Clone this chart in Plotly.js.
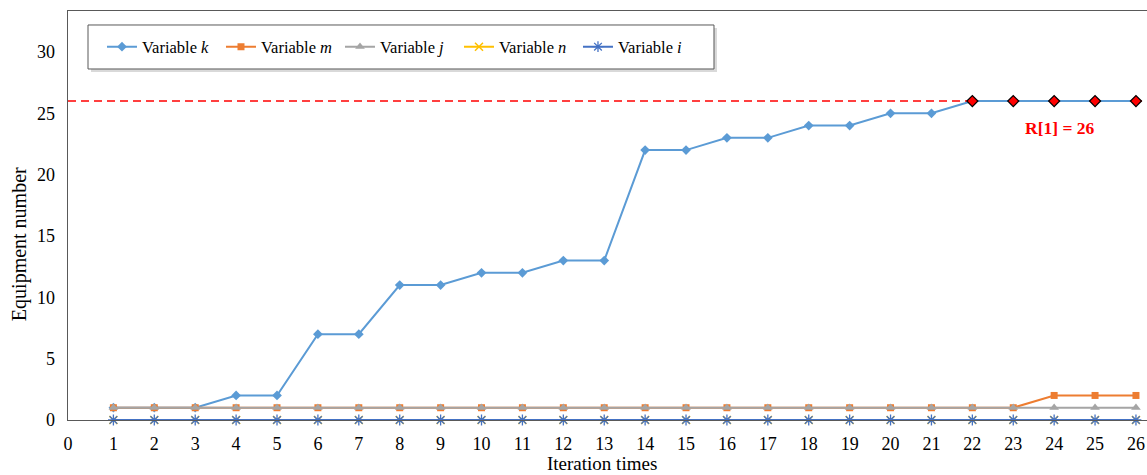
<!DOCTYPE html>
<html>
<head>
<meta charset="utf-8">
<script src="https://cdn.plot.ly/plotly-3.0.1.min.js"></script>
<style>html,body{margin:0;padding:0;background:#fff;}#chart{width:1147px;height:475px;}</style>
</head>
<body>
<div id="chart"></div>
<script>
const iterations = [1,2,3,4,5,6,7,8,9,10,11,12,13,14,15,16,17,18,19,20,21,22,23,24,25,26];
const varK = [1,1,1,2,2,7,7,11,11,12,12,13,13,22,22,23,23,24,24,25,25,26,26,26,26,26];
const varM = [1,1,1,1,1,1,1,1,1,1,1,1,1,1,1,1,1,1,1,1,1,1,1,2,2,2];
const varJ = [1,1,1,1,1,1,1,1,1,1,1,1,1,1,1,1,1,1,1,1,1,1,1,1,1,1];
const varN = [0,0,0,0,0,0,0,0,0,0,0,0,0,0,0,0,0,0,0,0,0,0,0,0,0,0];
const varI = [0,0,0,0,0,0,0,0,0,0,0,0,0,0,0,0,0,0,0,0,0,0,0,0,0,0];
const limitValue = 26;
const limitIterations = [22,23,24,25,26];
const limitValues = [26,26,26,26,26];
const limitLabel = 'R[1] = 26';
const xTickText = ['0','1','2','3','4','5','6','7','8','9','10','11','12','13','14','15','16','17','18','19','20','21','22','23','24','25','26'];
const yTickVals = [0,5,10,15,20,25,30];
const xTitle = 'Iteration times';
const yTitle = 'Equipment number';

const FONT = 'Liberation Serif, serif';
const xStart = -0.11;

function series(name, y, color, symbol, size, lineW) {
  return {
    x: iterations, y: y, name: name, type: 'scatter', mode: 'lines+markers',
    cliponaxis: false,
    line: {color: color, width: 2},
    marker: {symbol: symbol, size: size, color: color, line: {color: color, width: lineW || 0}}
  };
}

const traces = [
  series('Variable <i>k</i>', varK, '#5B9BD5', 'diamond', 7.5),
  series('Variable <i>m</i>', varM, '#ED7D31', 'square', 7),
  series('Variable <i>j</i>', varJ, '#A5A5A5', 'triangle-up', 8.5),
  series('Variable <i>n</i>', varN, '#FFC000', 'x-thin-open', 8, 1.5),
  series('Variable <i>i</i>', varI, '#4472C4', 'asterisk-open', 9, 1.3),
  {
    x: limitIterations, y: limitValues, type: 'scatter', mode: 'markers', showlegend: false,
    cliponaxis: false, hoverinfo: 'skip',
    marker: {symbol: 'diamond', size: 8.5, color: '#FF0000', line: {color: '#000000', width: 1.2}}
  }
];

const tickVals = [xStart].concat(iterations);

const layout = {
  width: 1147, height: 475,
  margin: {l: 68, r: 0, t: 11, b: 55, autoexpand: false},
  paper_bgcolor: '#ffffff', plot_bgcolor: '#ffffff',
  font: {family: FONT, size: 16, color: '#000000'},
  showlegend: true,
  legend: {
    orientation: 'h', x: 0.0315, y: 0.912, xanchor: 'left', yanchor: 'middle',
    bgcolor: 'rgba(0,0,0,0)', borderwidth: 0,
    font: {family: FONT, size: 16.5, color: '#000'},
    entrywidth: 74, entrywidthmode: 'pixels',
    tracegroupgap: 0, itemwidth: 30
  },
  xaxis: {
    range: [xStart, 26.27], tickmode: 'array', tickvals: tickVals, ticktext: xTickText,
    showgrid: false, zeroline: false, showline: true, mirror: true,
    linecolor: '#595959', linewidth: 1.3, ticks: '', ticklabelstandoff: 7,
    tickfont: {family: FONT, size: 18}
  },
  yaxis: {
    range: [0, 33.34], tickmode: 'array', tickvals: yTickVals,
    showgrid: false, zeroline: false, showline: true, mirror: true,
    linecolor: '#595959', linewidth: 1.3, ticks: '', ticklabelstandoff: 8,
    tickfont: {family: FONT, size: 18}
  },
  shapes: [
    {type: 'line', xref: 'paper', yref: 'y', x0: 0, x1: 1, y0: limitValue, y1: limitValue,
     line: {color: '#FF0000', width: 1.5, dash: '8px,5px'}, layer: 'below'},
    {type: 'rect', xref: 'paper', yref: 'paper', x0: 0.0213, x1: 0.6015, y0: 0.8509, y1: 0.9584,
     fillcolor: '#D9D9D9', line: {width: 0}, layer: 'above'},
    {type: 'rect', xref: 'paper', yref: 'paper', x0: 0.01854, x1: 0.5987, y0: 0.8582, y1: 0.9658,
     fillcolor: '#ffffff', line: {color: '#595959', width: 1}, layer: 'above'}
  ],
  annotations: [
    {x: 24.15, y: 23.8, xref: 'x', yref: 'y', text: '<b>' + limitLabel + '</b>', showarrow: false,
     font: {family: FONT, size: 17.5, color: '#FF0000'}},
    {x: -0.0454, y: 0.43, xref: 'paper', yref: 'paper', xanchor: 'center', yanchor: 'middle',
     text: yTitle, textangle: -90, showarrow: false,
     font: {family: FONT, size: 20, color: '#000'}},
    {x: 0.4949, y: -0.1075, xref: 'paper', yref: 'paper', xanchor: 'center', yanchor: 'middle',
     text: xTitle, showarrow: false,
     font: {family: FONT, size: 19, color: '#000'}}
  ]
};

Plotly.newPlot('chart', traces, layout, {displayModeBar: false, staticPlot: true});
</script>
</body>
</html>
